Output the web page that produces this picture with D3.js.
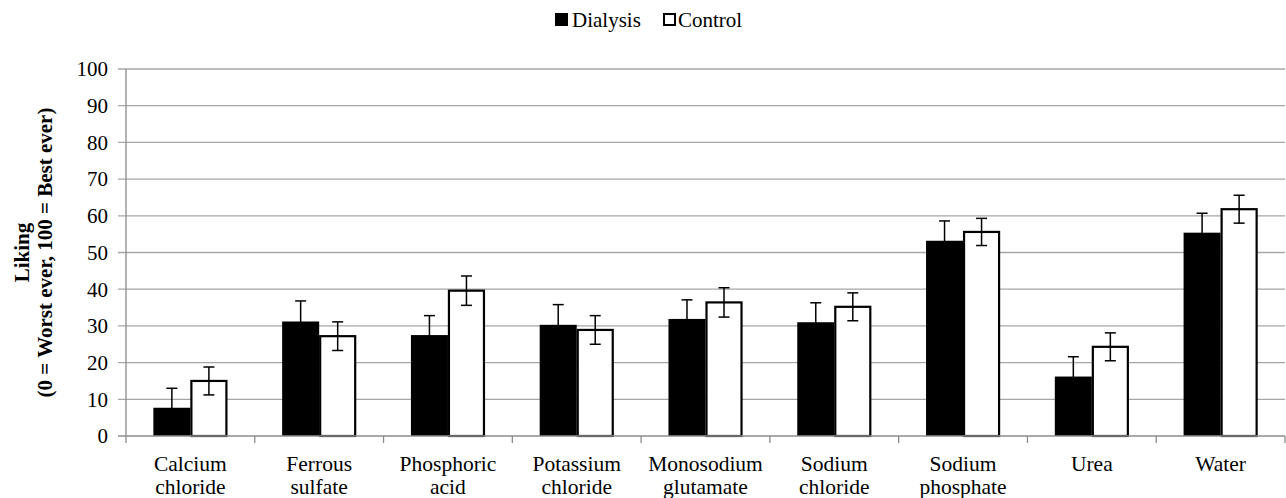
<html>
  <head>
    <script src="https://cdn.jsdelivr.net/npm/d3@7"></script>
    <style>
      body { margin: 0; background: #fff; }
    </style>
  </head>
  <body>
    <script>
      const categories = [
        ["Calcium", "chloride"], ["Ferrous", "sulfate"], ["Phosphoric", "acid"],
        ["Potassium", "chloride"], ["Monosodium", "glutamate"], ["Sodium", "chloride"],
        ["Sodium", "phosphate"], ["Urea"], ["Water"]
      ];
      const seriesNames = ["Dialysis", "Control"];
      const dialysis = [7.7, 31.2, 27.5, 30.3, 31.9, 31.0, 53.2, 16.2, 55.4];
      const dialysisErr = [5.3, 5.6, 5.3, 5.5, 5.2, 5.3, 5.4, 5.4, 5.3];
      const control = [15.0, 27.2, 39.6, 28.9, 36.4, 35.2, 55.6, 24.3, 61.8];
      const controlErr = [3.8, 3.9, 4.0, 3.9, 4.0, 3.8, 3.7, 3.8, 3.8];
      const yTicks = [0, 10, 20, 30, 40, 50, 60, 70, 80, 90, 100];

      const width = 1286, height = 498;
      const plotLeft = 126, plotRight = 1285, plotTop = 69, plotBottom = 436;
      const serif = "'Liberation Serif', 'Times New Roman', 'DejaVu Serif', serif";

      const svg = d3.select("body").append("svg")
          .attr("width", width)
          .attr("height", height)
          .attr("font-family", serif)
          .style("font-family", serif);

      const keys = categories.map((c, i) => i);
      const x0 = d3.scaleBand().domain(keys).range([plotLeft, plotRight])
          .paddingInner(0.425).paddingOuter(0.2125);
      const x1 = d3.scaleBand().domain(seriesNames).range([0, x0.bandwidth()]);
      const y = d3.scaleLinear().domain([0, 100]).range([plotBottom, plotTop]);
      const step = x0.step();

      // gridlines
      svg.append("g").selectAll("line").data(yTicks.filter(d => d > 0)).join("line")
          .attr("x1", plotLeft - 8).attr("x2", plotRight)
          .attr("y1", d => y(d)).attr("y2", d => y(d))
          .attr("stroke", "#a6a6a6").attr("stroke-width", 1.3);

      // y tick labels
      svg.append("g").selectAll("text").data(yTicks).join("text")
          .attr("x", 108).attr("y", d => y(d))
          .attr("text-anchor", "end").attr("dy", "0.35em")
          .style("font-size", "21px")
          .text(d => d);

      // bars
      const rows = keys.map(i => [
        { s: "Dialysis", v: dialysis[i], e: dialysisErr[i], i },
        { s: "Control", v: control[i], e: controlErr[i], i }
      ]);
      const g = svg.append("g").selectAll("g").data(rows).join("g")
          .attr("transform", (d, i) => `translate(${x0(i)},0)`);

      g.selectAll("rect").data(d => d).join("rect")
          .attr("x", d => x1(d.s) + (d.s === "Control" ? 1 : 0))
          .attr("y", d => y(d.v))
          .attr("width", d => x1.bandwidth() - (d.s === "Control" ? 2 : 0))
          .attr("height", d => y(0) - y(d.v))
          .attr("fill", d => d.s === "Dialysis" ? "#000" : "#fff")
          .attr("stroke", "#000")
          .attr("stroke-width", d => d.s === "Control" ? 2.2 : 0);

      // error bars
      const eb = g.selectAll("g.err").data(d => d).join("g").attr("class", "err")
          .attr("transform", d => `translate(${x1(d.s) + x1.bandwidth() / 2},0)`);
      eb.append("line")
          .attr("y1", d => y(d.v - d.e)).attr("y2", d => y(d.v + d.e))
          .attr("stroke", "#000").attr("stroke-width", 1.5);
      eb.selectAll("line.cap").data(d => [d.v - d.e, d.v + d.e]).join("line")
          .attr("class", "cap")
          .attr("x1", -5.5).attr("x2", 5.5)
          .attr("y1", d => y(d)).attr("y2", d => y(d))
          .attr("stroke", "#000").attr("stroke-width", 1.5);

      // axes
      svg.append("line")
          .attr("x1", plotLeft).attr("x2", plotLeft).attr("y1", plotTop).attr("y2", plotBottom)
          .attr("stroke", "#8c8c8c").attr("stroke-width", 1.3);
      svg.append("line")
          .attr("x1", plotLeft - 8).attr("x2", plotRight)
          .attr("y1", y(0)).attr("y2", y(0))
          .attr("stroke", "#8c8c8c").attr("stroke-width", 1.5);
      svg.append("g").selectAll("line").data(d3.range(categories.length + 1)).join("line")
          .attr("x1", d => plotLeft + d * step).attr("x2", d => plotLeft + d * step)
          .attr("y1", plotBottom).attr("y2", plotBottom + 7)
          .attr("stroke", "#8c8c8c").attr("stroke-width", 1.3);

      // category labels
      const lab = svg.append("g").selectAll("text").data(categories).join("text")
          .attr("x", (d, i) => x0(i) + x0.bandwidth() / 2)
          .attr("y", 471)
          .attr("text-anchor", "middle")
          .style("font-size", "21.5px");
      lab.selectAll("tspan").data(d => d).join("tspan")
          .attr("x", function() { return this.parentNode.getAttribute("x"); })
          .attr("dy", (d, i) => i === 0 ? 0 : 23)
          .text(d => d);

      // y title
      const yt = svg.append("text")
          .attr("transform", `translate(29,${(plotTop + plotBottom) / 2}) rotate(-90)`)
          .attr("text-anchor", "middle")
          .style("font-size", "21px").style("font-weight", "bold");
      yt.append("tspan").attr("x", 0).attr("dy", 0).text("Liking");
      yt.append("tspan").attr("x", 0).attr("dy", 23).text("(0 = Worst ever, 100 = Best ever)");

      // legend
      const leg = svg.append("g").attr("transform", "translate(555,13)");
      leg.append("rect").attr("x", 0).attr("y", 0).attr("width", 13).attr("height", 13)
          .attr("fill", "#000");
      leg.append("text").attr("x", 17).attr("y", 7).attr("dy", "0.35em")
          .style("font-size", "21px").text(seriesNames[0]);
      leg.append("rect").attr("x", 109).attr("y", 1).attr("width", 11).attr("height", 11)
          .attr("fill", "#fff").attr("stroke", "#000").attr("stroke-width", 2);
      leg.append("text").attr("x", 123).attr("y", 7).attr("dy", "0.35em")
          .style("font-size", "21px").text(seriesNames[1]);
    </script>
  </body>
</html>
